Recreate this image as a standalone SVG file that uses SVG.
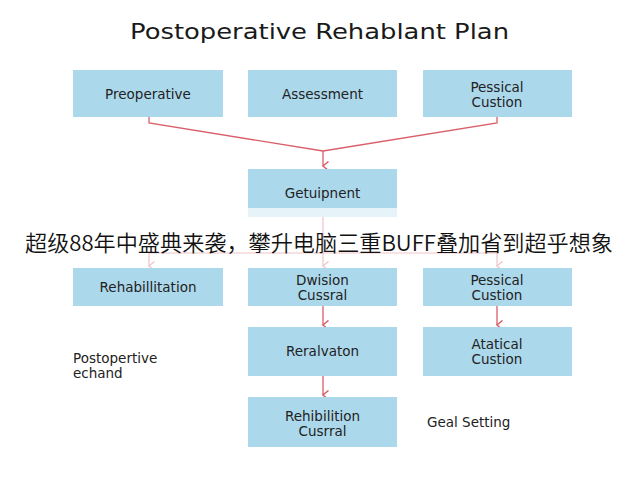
<svg xmlns="http://www.w3.org/2000/svg" width="640" height="480" viewBox="0 0 640 480">
<style>
.box{fill:#acd8ec;}
.lbl{font-family:"DejaVu Sans","Liberation Sans",sans-serif;font-size:13.5px;fill:#222;text-anchor:middle;}
.free{font-family:"DejaVu Sans","Liberation Sans",sans-serif;font-size:13.5px;fill:#222;}
.con{fill:none;stroke:#d9606a;stroke-width:1.3;}
.faint{fill:none;stroke:#f0c4c8;stroke-width:1.2;}
</style>
<defs>
<marker id="ah" markerWidth="10" markerHeight="10" refX="5" refY="8" orient="auto" markerUnits="userSpaceOnUse" viewBox="0 0 10 10">
<path d="M0.5,2.5 L5,8 L9.5,2.5" fill="none" stroke="#d9606a" stroke-width="1.5"/>
</marker>
<marker id="ahf" markerWidth="10" markerHeight="10" refX="5" refY="8" orient="auto" markerUnits="userSpaceOnUse" viewBox="0 0 10 10">
<path d="M0.5,2.5 L5,8 L9.5,2.5" fill="none" stroke="#f0c4c8" stroke-width="1.3"/>
</marker>
</defs>
<rect width="640" height="480" fill="#ffffff"/>
<text x="319.5" y="39" textLength="379" lengthAdjust="spacingAndGlyphs" style="font-family:'DejaVu Sans','Liberation Sans',sans-serif;font-size:21px;fill:#1a1a1a;text-anchor:middle;">Postoperative Rehablant Plan</text>

<g id="connectors">
<polyline class="con" points="149,117 149,123 323,151"/>
<polyline class="con" points="497,117 497,123 323,151"/>
<line class="con" x1="323" y1="151" x2="323" y2="166" marker-end="url(#ah)"/>
<line class="faint" x1="323" y1="217" x2="323" y2="253"/>
<line class="faint" x1="149" y1="253" x2="497" y2="253"/>
<line class="faint" x1="149" y1="253" x2="149" y2="266" marker-end="url(#ahf)"/>
<line class="faint" x1="323" y1="253" x2="323" y2="266" marker-end="url(#ahf)"/>
<line class="faint" x1="497" y1="253" x2="497" y2="266" marker-end="url(#ahf)"/>
<line class="con" x1="323" y1="306" x2="323" y2="325" marker-end="url(#ah)"/>
<line class="con" x1="497" y1="306" x2="497" y2="325" marker-end="url(#ah)"/>
<line class="con" x1="323" y1="376" x2="323" y2="395" marker-end="url(#ah)"/>
</g>

<g id="n-preoperative"><rect class="box" x="73" y="70" width="150" height="47"/><text class="lbl" x="148" y="99">Preoperative</text></g>
<g id="n-assessment"><rect class="box" x="248" y="70" width="149" height="47"/><text class="lbl" x="322.5" y="99">Assessment</text></g>
<g id="n-pessical1"><rect class="box" x="423" y="70" width="149" height="47"/><text class="lbl" x="497" y="91.5">Pessical</text><text class="lbl" x="497" y="106.5">Custion</text></g>
<g id="n-getuipnent"><rect class="box" x="248" y="169" width="149" height="39"/><rect x="248" y="208" width="149" height="9" fill="#e6f4fa"/><text class="lbl" x="322.5" y="198">Getuipnent</text></g>

<g id="n-rehabilitation"><rect class="box" x="73" y="268" width="150" height="38"/><text class="lbl" x="148" y="292">Rehabillitation</text></g>
<g id="n-division"><rect class="box" x="248" y="268" width="149" height="38"/><text class="lbl" x="322.5" y="284.5">Dwision</text><text class="lbl" x="322.5" y="299.5">Cussral</text></g>
<g id="n-pessical2"><rect class="box" x="423" y="268" width="149" height="38"/><text class="lbl" x="497" y="284.5">Pessical</text><text class="lbl" x="497" y="299.5">Custion</text></g>
<g id="n-reralvaton"><rect class="box" x="248" y="327" width="149" height="49"/><text class="lbl" x="322.5" y="356">Reralvaton</text></g>
<g id="n-atatical"><rect class="box" x="423" y="327" width="149" height="49"/><text class="lbl" x="497" y="349">Atatical</text><text class="lbl" x="497" y="364">Custion</text></g>
<g id="n-rehibilition"><rect class="box" x="248" y="397" width="149" height="50"/><text class="lbl" x="322.5" y="421">Rehibilition</text><text class="lbl" x="322.5" y="436">Cusrral</text></g>

<g id="n-postopertive"><text class="free" x="73" y="363">Postopertive</text><text class="free" x="73" y="378">echand</text></g>
<g id="n-goal"><text class="free" x="427" y="427">Geal Setting</text></g>

<text x="319" y="251" textLength="588" lengthAdjust="spacingAndGlyphs" style="font-family:'Noto Sans CJK SC','Noto Sans',sans-serif;font-size:22px;font-weight:350;fill:#111;text-anchor:middle;">超级88年中盛典来袭，攀升电脑三重BUFF叠加省到超乎想象</text>
</svg>
